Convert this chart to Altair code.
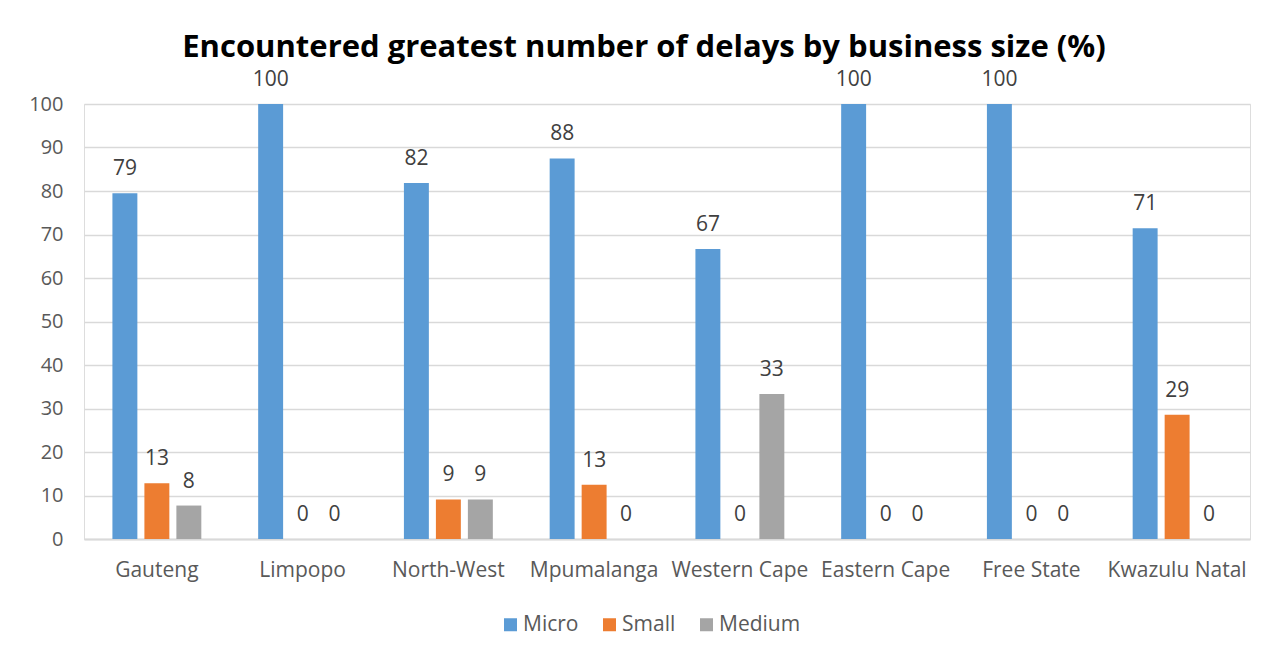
import altair as alt
import pandas as pd

provinces = ["Gauteng", "Limpopo", "North-West", "Mpumalanga", "Western Cape",
             "Eastern Cape", "Free State", "Kwazulu Natal"]
sizes = ["Micro", "Small", "Medium"]
micro = [79.49, 100, 81.82, 87.5, 66.67, 100, 100, 71.43]
small = [12.82, 0, 9.09, 12.5, 0, 0, 0, 28.57]
medium = [7.69, 0, 9.09, 0, 33.33, 0, 0, 0]
colors = ["#5B9BD5", "#ED7D31", "#A5A5A5"]

rows = []
for i, p in enumerate(provinces):
    for s, vals in zip(sizes, [micro, small, medium]):
        rows.append({"Province": p, "Size": s, "Value": vals[i]})
df = pd.DataFrame(rows)

FONT = "Open Sans"

base = alt.Chart(df).encode(
    x=alt.X("Province:N", sort=provinces, title=None,
            scale=alt.Scale(paddingInner=0.39, paddingOuter=0.195),
            axis=alt.Axis(labelAngle=0, labelFontSize=21, labelColor="#595959",
                          labelFont=FONT, labelPadding=20, ticks=False,
                          domain=True, domainColor="#D9D9D9", domainWidth=2,
                          grid=False)),
    xOffset=alt.XOffset("Size:N", sort=sizes,
                        scale=alt.Scale(paddingInner=0.22, paddingOuter=0)),
)

bars = base.mark_bar().encode(
    y=alt.Y("Value:Q", title=None,
            scale=alt.Scale(domain=[0, 100], nice=False),
            axis=alt.Axis(values=list(range(0, 101, 10)), labelFontSize=20,
                          labelColor="#595959", labelFont=FONT, labelPadding=21,
                          ticks=False, domain=False, gridColor="#D9D9D9",
                          gridWidth=1.5)),
    color=alt.Color("Size:N", sort=sizes,
                    scale=alt.Scale(domain=sizes, range=colors),
                    legend=alt.Legend(title=None, orient="none", direction="horizontal",
                                      legendX=416, legendY=510, symbolType="square",
                                      symbolSize=169, symbolStrokeWidth=0,
                                      labelFontSize=21, labelColor="#595959",
                                      labelFont=FONT, columnPadding=20,
                                      symbolOffset=0, labelOffset=2)),
)

labels = base.mark_text(baseline="alphabetic", dy=-18, fontSize=21,
                        color="#404040", font=FONT).encode(
    y=alt.Y("Value:Q"),
    text=alt.Text("Value:Q", format=".0f"),
)

chart = alt.layer(bars, labels).properties(
    width=1166, height=435,
    title=alt.TitleParams("Encountered greatest number of delays by business size (%)",
                          fontSize=31, font=FONT, fontWeight="bold", color="#000000",
                          anchor="middle", offset=5, dx=-23),
    autosize=alt.AutoSizeParams(type="none"),
    padding={"left": 76, "top": 96, "right": 22, "bottom": 110},
).configure_view(stroke=None).configure(background="white")

chart.save("out.html", embed_options={"renderer": "svg", "actions": False})
